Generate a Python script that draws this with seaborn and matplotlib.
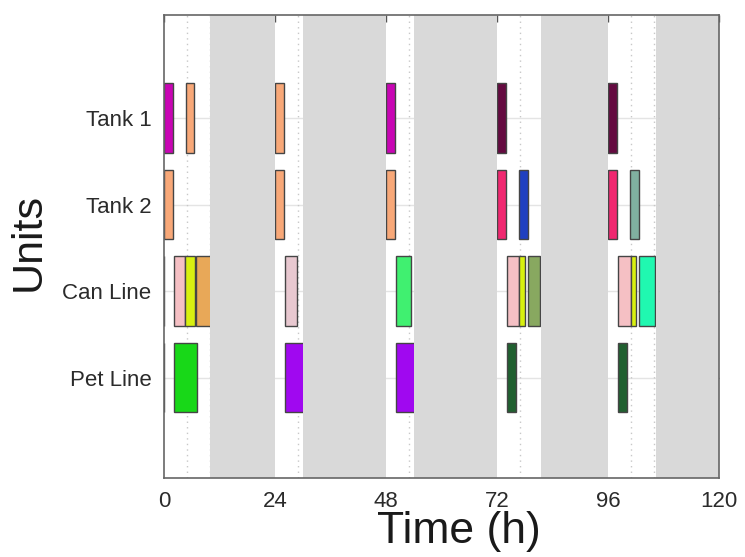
import matplotlib
matplotlib.use("Agg")
import matplotlib.pyplot as plt
import seaborn as sns
import pandas as pd

# ---------------- data ----------------
units = ["Tank 1", "Tank 2", "Can Line", "Pet Line"]
unit_pos = [4, 3, 2, 1]

task_unit = (["Tank 1"] * 6 + ["Tank 2"] * 7 + ["Can Line"] * 12 + ["Pet Line"] * 6)
task_start = [0, 4.7, 24, 48, 72, 96,
              0, 24, 48, 72, 76.8, 96, 100.8,
              0, 2.1, 4.6, 6.9, 26.2, 50.2, 74.2, 76.8, 78.8, 98.2, 100.9, 102.8,
              0, 2.1, 26.2, 50.2, 74.2, 98.2]
task_end = [2, 6.6, 26, 50, 74, 98,
            2, 26, 50, 74, 78.8, 98, 102.8,
            0, 4.6, 6.8, 10.2, 28.7, 53.4, 76.8, 78.0, 81.3, 100.9, 102.1, 106.2,
            0, 7.2, 30.2, 54.2, 76.1, 100.1]
task_color = ["#C805B4", "#F8A878", "#F8A878", "#C805B4", "#640A40", "#640A40",
              "#F8A878", "#F8A878", "#F8A878", "#F02870", "#2040C0", "#F02870", "#80B0A0",
              "#404040", "#F5C0C4", "#D8F010", "#E8A858", "#E8C8D0", "#40F070",
              "#F5C0C4", "#D8F010", "#88A860", "#F5C0C4", "#D8F010", "#20F8B0",
              "#404040", "#18D818", "#A008F0", "#A008F0", "#206030", "#206030"]

downtime_start = [10, 30, 54, 81.5, 106.4]
downtime_end = [24, 48, 72, 96, 120]
dotted_times = [5, 10, 29, 34, 53, 58, 77, 82, 101, 106]
x_ticks = [0, 24, 48, 72, 96, 120]

# ---------------- plot ----------------
sns.set_theme(style="white")
plt.rcParams["font.family"] = ["Liberation Sans", "DejaVu Sans"]

df = pd.DataFrame({"unit": task_unit, "start": task_start, "end": task_end, "color": task_color})
ypos = dict(zip(units, unit_pos))
df["y"] = df["unit"].map(ypos)
df["dur"] = df["end"] - df["start"]

fig = plt.figure(figsize=(7.45, 5.57), dpi=100)
ax = fig.add_axes([0.220, 0.1418, 0.745, 0.8312])

# grid
for y in unit_pos:
    ax.axhline(y, color="#e4e4e4", lw=1, zorder=0)
for t in dotted_times:
    ax.axvline(t, color="#c8c8c8", lw=1, ls=(0, (1, 3)), zorder=0.5)

# downtime
for s, e in zip(downtime_start, downtime_end):
    ax.axvspan(s, e, color="#d9d9d9", lw=0, zorder=3)

# tasks
ax.barh(df["y"], df["dur"], left=df["start"], height=0.8, color=df["color"],
        edgecolor="#454545", linewidth=1.0, zorder=2)

ax.set_xlim(0, 120)
ax.set_ylim(-0.16, 5.19)
ax.set_xticks(x_ticks)
ax.set_yticks(unit_pos)
ax.set_yticklabels(units)

ax.tick_params(axis="both", direction="in", top=True, right=True, length=5,
               width=1, color="#555555", labelsize=16, labelcolor="#2b2b2b", pad=9)
for sp in ax.spines.values():
    sp.set_color("#666666")
    sp.set_linewidth(1.2)
    sp.set_zorder(5)

ax.set_xlabel("Time (h)", fontsize=32, color="#1a1a1a")
ax.xaxis.set_label_coords(0.532, -0.072)
ax.set_ylabel("Units", fontsize=31, color="#1a1a1a")
ax.yaxis.set_label_coords(-0.207, 0.51)

fig.savefig("out.png", dpi=100)
